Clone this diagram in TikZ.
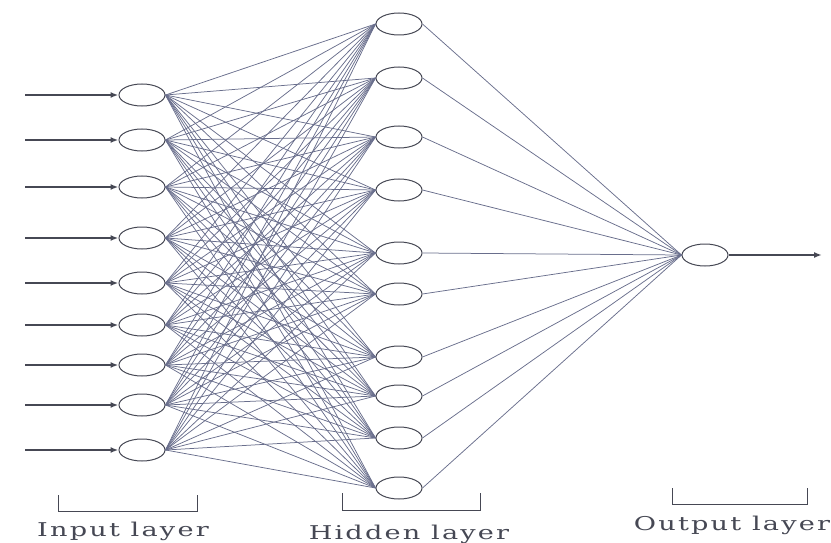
\documentclass[tikz,border=0pt]{standalone}
\usepackage{fontspec}
\setmainfont{DejaVu Serif}
\newfontfamily\layerfont[LetterSpace=8]{DejaVu Serif}
\usepackage{xcolor}
\usepackage{tikz}
\usetikzlibrary{shapes.geometric,arrows.meta}
\definecolor{wiregray}{RGB}{105,110,140}
\definecolor{inkgray}{RGB}{70,72,84}
\newcommand{\widetext}[1]{\scalebox{1.43}[1]{#1}}

\begin{document}
\begin{tikzpicture}[x=1pt, y=-1pt,
  neuron/.style={draw=inkgray, shape=ellipse, minimum width=46pt, minimum height=22pt, inner sep=0pt, line width=1pt, fill=white},
  wire/.style={draw=wiregray, line width=0.75pt},
  feed/.style={-{Latex[length=8pt,width=6pt]}, line width=1.8pt, draw=inkgray},
  brk/.style={draw=inkgray, line width=0.9pt},
  lbl/.style={font=\layerfont\fontsize{19}{22}\selectfont, text=inkgray, inner sep=0pt, anchor=base}]
\useasboundingbox (0,0) rectangle (831,543);
% layers
\foreach \y [count=\i] in {95,140,187,238,283,325,365,405,450}
  \node[neuron] (in\i) at (142,\y) {};
\foreach \y [count=\j] in {24,78,137,190,253,294,357,396,438,488}
  \node[neuron] (hid\j) at (399,\y) {};
\node[neuron] (out) at (705,255) {};
% connections
\foreach \i in {1,...,9}
  \foreach \j in {1,...,10}
    \draw[wire] (in\i.east) -- (hid\j.west);
\foreach \j in {1,...,10}
  \draw[wire] (hid\j.east) -- (out.west);
% inputs and output
\foreach \y [count=\i] in {95,140,187,238,283,325,365,405,450} {
  \coordinate (src\i) at (25,\y);
  \draw[feed] (src\i) -- (in\i.west);
}
\coordinate (sink) at (822,255);
\draw[feed] (out.east) -- (sink);
% layer brackets
\draw[brk] (58,495) -- (58,511) -- (197,511) -- (197,495);
\draw[brk] (342,493) -- (342,510) -- (480,510) -- (480,493);
\draw[brk] (672,488) -- (672,504) -- (807,504) -- (807,488);
\node[lbl] (inlbl) at (123,536) {\widetext{Input layer}};
\node[lbl] (hidlbl) at (409,539) {\widetext{Hidden layer}};
\node[lbl] (outlbl) at (732,530) {\widetext{Output layer}};
\end{tikzpicture}
\end{document}
